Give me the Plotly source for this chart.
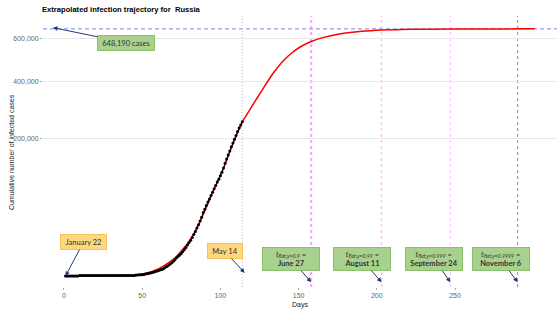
import numpy as np
import plotly.graph_objects as go

# ---------------- data ----------------
# observed cumulative cases, Russia, Jan 22 (day 1) .. May 14 (day 114)
obs_cases = (
    [0] * 9 + [2] * 31 +
    [3, 3, 3, 4, 4, 13, 13, 17, 17, 20, 28, 45, 59, 63, 90, 114, 147, 199, 253, 306,
     367, 438, 495, 658, 840, 1036, 1264, 1534, 1836, 2337, 2777, 3548, 4149, 4731,
     5389, 6343, 7497, 8672, 10131, 11917, 13584, 15770, 18328, 21102, 24490, 27938,
     32008, 36793, 42853, 47121, 52763, 57999, 62773, 68622, 74588, 80949, 87147,
     93558, 99399, 106498, 114431, 124054, 134687, 145268, 155370, 165929, 177160,
     187859, 198676, 209688, 221344, 232243, 242271, 252245]
)
obs_days = list(range(1, len(obs_cases) + 1))

# fitted / extrapolated trajectory
fit_days = [48, 51, 56, 61, 66, 71, 76, 81, 86, 91, 96, 101, 106, 110, 114, 118, 122,
            126, 130, 134, 138, 142, 146, 151, 158, 166, 176, 186, 196, 203, 221, 247,
            271, 290, 301]
fit_cases = [20, 50, 200, 600, 1600, 3500, 7600, 14500, 27500, 50000, 80000, 114000,
             163000, 207000, 252000, 286200, 322600, 360000, 399400, 438200, 473300,
             504100, 530000, 556500, 583400, 604300, 621700, 632400, 638800, 641700,
             645500, 647500, 648000, 648130, 648190]

final_size = 648190
flat_days = [158, 203, 247, 290]
flat_levels = ["0.9", "0.99", "0.999", "0.9999"]
flat_dates = ["June 27", "August 11", "September 24", "November 6"]
last_obs_day = 114

y_ticks = [200000, 400000, 600000]
y_tick_labels = ["200,000", "400,000", "600,000"]
x_ticks = [0, 50, 100, 150, 200, 250]

# ---------------- figure ----------------
sq = np.sqrt
fig = go.Figure()

fig.add_trace(go.Scatter(
    x=fit_days, y=sq(fit_cases), mode="lines",
    line=dict(color="#ff0000", width=1.5, shape="spline", smoothing=0.5),
    hoverinfo="skip", showlegend=False))
fig.add_trace(go.Scatter(
    x=obs_days, y=sq(obs_cases), mode="lines+markers",
    line=dict(color="black", width=1),
    marker=dict(color="black", size=3),
    showlegend=False))

# reference lines
fig.add_shape(type="line", xref="paper", x0=0, x1=1, yref="y",
              y0=sq(final_size), y1=sq(final_size), layer="below",
              line=dict(color="rgba(90,90,230,0.75)", width=1, dash="4px,3px"))
fig.add_shape(type="line", xref="x", x0=last_obs_day, x1=last_obs_day, yref="paper",
              y0=0, y1=1, layer="below",
              line=dict(color="#bbbbbb", width=1, dash="1px,2px"))
vl_styles = [("rgba(238,130,238,0.65)", 2.2), ("rgba(238,130,238,0.5)", 1.4),
             ("rgba(238,130,238,0.45)", 1.2), ("rgba(228,70,228,0.8)", 1.2)]
for d, (c, w) in zip(flat_days, vl_styles):
    fig.add_shape(type="line", xref="x", x0=d, x1=d, yref="paper", y0=0, y1=1,
                  layer="below", line=dict(color=c, width=w, dash="3px,3px"))

green_bg, green_bd = "#a9d18e", "#8cbf6c"
orange_bg, orange_bd = "#ffd77f", "#f6c15a"
arrow_col = "#1f3b70"
box_font = dict(family="Lato, Liberation Sans, sans-serif", size=7.5, color="#333333")

def box(x, y, text, ax, ay, bg, bd, w, h):
    fig.add_annotation(x=x, y=y, xref="x", yref="y", text=text, showarrow=True,
                       ax=ax, ay=ay, arrowhead=2, arrowsize=0.9, arrowwidth=1,
                       arrowcolor=arrow_col, bgcolor=bg, bordercolor=bd,
                       borderwidth=1, borderpad=1, width=w, height=h, font=box_font,
                       align="center")

box(-7, sq(final_size) + 4, "648,190 cases", 73, 15, green_bg, green_bd, 54, 12)
box(1, 0, "January 22", 18, -34, orange_bg, orange_bd, 43, 12)
box(115.5, 10, "May 14", -20, -22, orange_bg, orange_bd, 32, 12)
for d, lv, dt, ax in zip(flat_days, flat_levels, flat_dates, [-20, -20, -16, -17]):
    txt = (f"<i>t</i><sub><i>flat,y={lv}</i></sub> =<br><b>{dt}</b>")
    box(d, -20, txt, ax, -23, green_bg, green_bd, 54, 20)

# axis titles
fig.add_annotation(xref="paper", yref="paper", x=-0.072, y=0.5, text="Cumulative number of infected cases",
                   textangle=-90, showarrow=False,
                   font=dict(family="Liberation Sans, Arial", size=7, color="#222222"))
fig.add_annotation(xref="paper", yref="paper", x=0.5, y=-0.066, yanchor="middle",
                   text="Days", showarrow=False,
                   font=dict(family="Liberation Sans, Arial", size=7, color="#222222"))

tickfont = dict(family="Liberation Sans, Arial", size=7, color="#666666")
fig.update_layout(
    width=560, height=315,
    margin=dict(l=43, r=3, t=16, b=28, autoexpand=False),
    paper_bgcolor="white", plot_bgcolor="white",
    title=dict(text="<b>Extrapolated infection trajectory for&nbsp; Russia</b>",
               x=0.075, xref="container", xanchor="left",
               y=0.969, yref="container", yanchor="middle",
               font=dict(family="Liberation Sans, Arial", size=7.6, color="black")),
    xaxis=dict(range=[-13.4, 315.2], tickvals=x_ticks, ticktext=[str(t) for t in x_ticks],
               showgrid=False, zeroline=False, showline=False, automargin=False,
               ticks="outside", ticklen=2, tickcolor="#aaaaaa", tickfont=tickfont),
    yaxis=dict(range=[-35.8, 847], tickvals=list(sq(y_ticks)), ticktext=y_tick_labels,
               showgrid=True, gridcolor="#e8e8e8", gridwidth=1, automargin=False,
               zeroline=False, showline=False,
               ticks="outside", ticklen=2, tickcolor="#aaaaaa", tickfont=tickfont),
)

fig.write_html("out.html", config={"displayModeBar": False},
               post_script="document.body.style.margin='0px';")
